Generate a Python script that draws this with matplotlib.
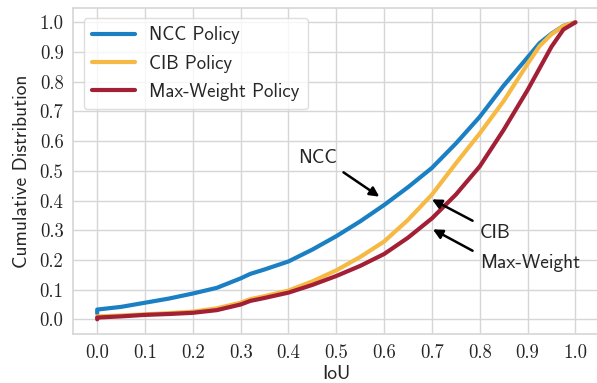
import matplotlib
matplotlib.use('Agg')
from matplotlib import pyplot as plt

iou = [0.0, 0.0, 0.05, 0.10, 0.15, 0.20, 0.25, 0.30, 0.32, 0.35, 0.40, 0.45,
       0.50, 0.55, 0.60, 0.65, 0.70, 0.75, 0.80, 0.85, 0.90, 0.925, 0.95, 0.975, 1.0]

ncc = [0.02, 0.033, 0.042, 0.056, 0.070, 0.087, 0.106, 0.138, 0.153, 0.168, 0.195, 0.235,
       0.28, 0.33, 0.385, 0.445, 0.51, 0.592, 0.682, 0.787, 0.882, 0.93, 0.962, 0.988, 1.0]
cib = [0.003, 0.01, 0.013, 0.017, 0.021, 0.026, 0.037, 0.056, 0.068, 0.078, 0.097, 0.128,
       0.165, 0.21, 0.262, 0.335, 0.42, 0.525, 0.626, 0.735, 0.86, 0.92, 0.96, 0.988, 1.0]
max_weight = [0.0, 0.006, 0.01, 0.015, 0.018, 0.022, 0.031, 0.05, 0.062, 0.072, 0.09, 0.116,
              0.146, 0.18, 0.22, 0.275, 0.34, 0.42, 0.515, 0.638, 0.772, 0.845, 0.918, 0.976, 1.0]

series_labels = ['NCC Policy', 'CIB Policy', 'Max-Weight Policy']
colors = ['#1b7fc4', '#f6b944', '#a21f35']

ticks = [0.0, 0.1, 0.2, 0.3, 0.4, 0.5, 0.6, 0.7, 0.8, 0.9, 1.0]

# annotations: text, text position, arrow tail, arrow head
notes = [
    ('NCC', (0.42, 0.544), (0.515, 0.495), (0.590, 0.413)),
    ('CIB', (0.80, 0.292), (0.785, 0.332), (0.700, 0.404)),
    ('Max-Weight', (0.80, 0.191), (0.785, 0.231), (0.702, 0.303)),
]

sans = ['cmss10', 'DejaVu Sans']
serif = ['cmr10', 'DejaVu Serif']
text_col = '#262626'
grid_col = '#d6d6d6'

fig = plt.figure(figsize=(5.97, 3.83), dpi=100)
ax = fig.add_axes([73.3 / 597, 48.8 / 383, 526 / 597, 326.7 / 383])
ax.set_facecolor('white')

for y, lab, c in zip([ncc, cib, max_weight], series_labels, colors):
    ax.plot(iou, y, color=c, lw=3.0, label=lab, solid_capstyle='round')

for txt, tpos, tail, head in notes:
    ax.text(tpos[0], tpos[1], txt, family=sans, fontsize=14, color=text_col,
            ha='left', va='center')
    ax.annotate('', xy=head, xytext=tail,
                arrowprops=dict(arrowstyle='-|>', color='black', lw=1.8,
                                mutation_scale=14, shrinkA=0, shrinkB=0))

ax.set_xlim(-0.05, 1.05)
ax.set_ylim(-0.05, 1.05)
ax.set_xticks(ticks)
ax.set_yticks(ticks)
ax.set_xticklabels(['%.1f' % t for t in ticks], family=serif, fontsize=13.5, color=text_col)
ax.set_yticklabels(['%.1f' % t for t in ticks], family=serif, fontsize=13.5, color=text_col)
ax.tick_params(length=0, pad=7)
ax.grid(True, color=grid_col, lw=1.0)
ax.set_axisbelow(True)
for s in ax.spines.values():
    s.set_color(grid_col)
    s.set_linewidth(1.2)

ax.set_xlabel('IoU', family=sans, fontsize=14, color=text_col, labelpad=2)
ax.set_ylabel('Cumulative Distribution', family=sans, fontsize=14, color=text_col, labelpad=6)

leg = ax.legend(loc='upper left', prop={'family': sans, 'size': 13.5},
                labelspacing=0.55, handlelength=2.3, handletextpad=0.75,
                borderaxespad=0.55, borderpad=0.45, frameon=True, fancybox=True)
leg.get_frame().set_edgecolor(grid_col)
leg.get_frame().set_linewidth(1.0)
for t in leg.get_texts():
    t.set_color(text_col)

fig.savefig('out.png', dpi=100)
